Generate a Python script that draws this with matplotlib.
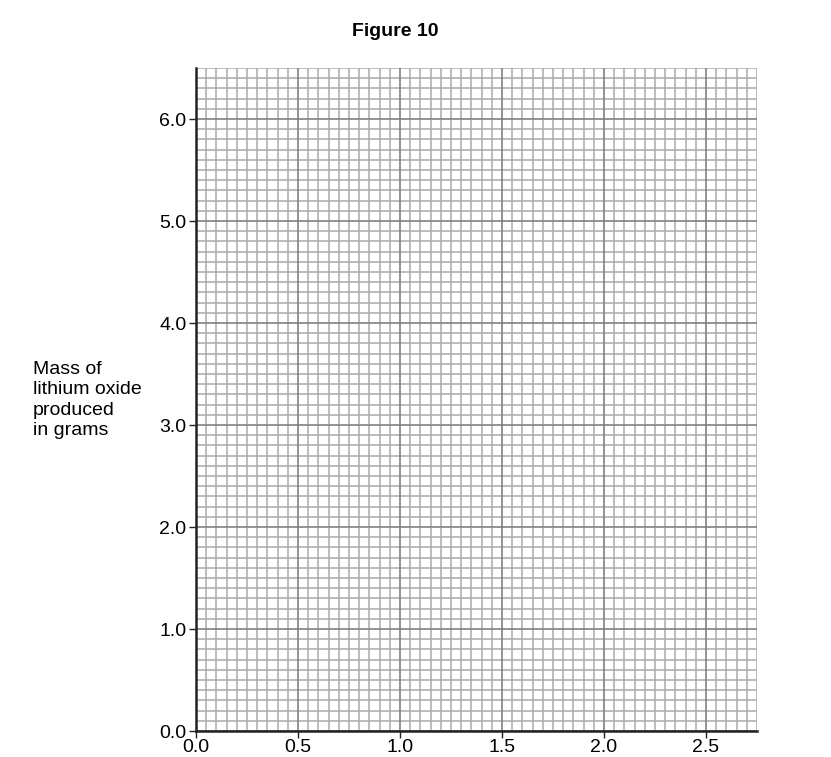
import matplotlib
matplotlib.use("Agg")
import matplotlib.pyplot as plt
import numpy as np

x_ticks = [0.0, 0.5, 1.0, 1.5, 2.0, 2.5]
x_tick_labels = ["0.0", "0.5", "1.0", "1.5", "2.0", "2.5"]
y_ticks = [0.0, 1.0, 2.0, 3.0, 4.0, 5.0, 6.0]
y_tick_labels = ["0.0", "1.0", "2.0", "3.0", "4.0", "5.0", "6.0"]
x_max = 2.75
y_max = 6.5
x_minor_step = 0.05
y_minor_step = 0.1
title = "Figure 10"
y_label = "Mass of\nlithium oxide\nproduced\nin grams"

plt.rcParams['font.family'] = ['Liberation Sans', 'DejaVu Sans']

fig = plt.figure(figsize=(8.31, 7.57), dpi=100)
ax = fig.add_axes([196/831, 1-731/757, (757-196)/831, (731-68)/757])
ax.set_xlim(0, x_max)
ax.set_ylim(0, y_max)

# grid
nx = int(round(x_max / x_minor_step))
for i in range(nx + 1):
    xv = i * x_minor_step
    major = (i % 10 == 0)
    ax.axvline(xv, color='#808080' if major else '#aaaaaa',
               lw=1.2 if major else 1.1, zorder=2 if major else 1)
ny = int(round(y_max / y_minor_step))
for i in range(ny + 1):
    yv = i * y_minor_step
    major = (i % 10 == 0)
    ax.axhline(yv, color='#808080' if major else '#aaaaaa',
               lw=1.2 if major else 1.1, zorder=2 if major else 1)

ax.set_xticks(x_ticks)
ax.set_xticklabels(x_tick_labels)
ax.set_yticks(y_ticks)
ax.set_yticklabels(y_tick_labels)
ax.tick_params(axis='both', direction='out', length=5, width=1, labelsize=14, pad=2, color='#222222')
ax.tick_params(axis='x', pad=1)

for s in ['top', 'right']:
    ax.spines[s].set_visible(False)
for s in ['left', 'bottom']:
    ax.spines[s].set_linewidth(1.8)
    ax.spines[s].set_color('#222222')
    ax.spines[s].set_zorder(5)

fig.text(395/831, 1-31/757, title, ha='center', va='center', fontsize=14, fontweight='bold')
fig.text(33/831, 1-400/757, y_label, ha='left', va='center', fontsize=14, linespacing=1.28)

fig.savefig("out.png", dpi=100)
